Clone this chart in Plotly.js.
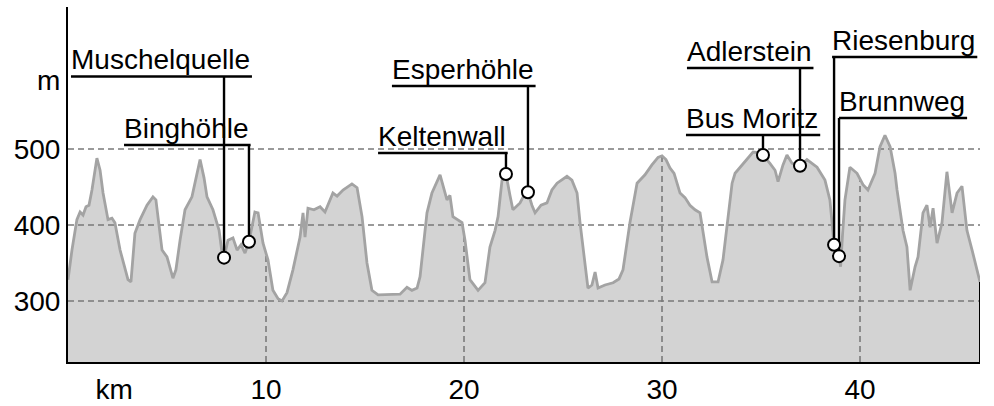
<!DOCTYPE html>
<html>
<head>
<meta charset="utf-8">
<script src="https://cdn.plot.ly/plotly-3.0.1.min.js"></script>
<style>
  html, body { margin: 0; padding: 0; background: #fff; }
  #chart { width: 994px; height: 406px; }
</style>
</head>
<body>
<div id="chart"></div>
<script>
// ---- Data: elevation profile (km, m) ----
var profileKm = [
  0.00,0.20,0.45,0.61,0.76,0.91,1.06,1.21,1.46,1.62,
  1.77,2.02,2.22,2.37,2.63,2.88,3.03,3.18,3.38,3.64,
  3.99,4.29,4.44,4.75,5.00,5.30,5.45,5.66,5.91,6.26,
  6.46,6.67,6.87,7.02,7.32,7.63,7.78,7.88,8.08,8.33,
  8.54,8.74,8.94,9.14,9.44,9.60,9.85,10.10,10.35,10.61,
  10.81,11.06,11.36,11.72,11.87,11.97,12.12,12.42,12.73,12.98,
  13.38,13.59,13.89,14.14,14.34,14.60,14.85,15.10,15.35,15.66,
  16.26,16.77,17.12,17.37,17.63,17.78,18.13,18.38,18.79,19.14,
  19.29,19.44,19.90,20.05,20.30,20.71,21.06,21.31,21.57,21.72,
  21.92,22.12,22.32,22.47,22.83,23.03,23.23,23.43,23.59,23.89,
  24.19,24.44,24.70,24.95,25.20,25.45,25.71,25.86,26.11,26.26,
  26.46,26.62,26.77,27.12,27.53,27.83,28.03,28.38,28.74,29.14,
  29.49,29.80,30.00,30.20,30.40,30.61,30.91,31.16,31.41,31.67,
  31.92,32.07,32.27,32.53,32.83,33.08,33.33,33.54,33.69,33.94,
  34.24,34.60,34.95,35.10,35.45,35.71,35.86,36.11,36.31,36.57,
  36.97,37.32,37.83,38.23,38.48,38.69,38.94,39.02,39.12,39.24,
  39.49,39.85,40.15,40.40,40.76,41.01,41.26,41.52,41.77,41.87,
  42.17,42.37,42.53,42.78,42.93,43.18,43.38,43.54,43.69,43.89,
  44.14,44.39,44.65,44.90,45.15,45.40,45.66,45.91,46.06
];
var profileElev = [
  328,367,407,417,413,424,426,446,488,472,
  442,407,409,403,367,341,328,325,389,407,
  426,437,433,367,358,330,341,380,420,437,
  459,486,462,437,420,393,363,357,380,383,
  367,374,363,378,417,416,376,354,314,303,
  300,311,341,384,416,384,422,420,424,417,
  442,438,446,451,454,449,411,350,314,308,
  309,309,318,314,317,332,416,442,466,433,
  439,411,403,380,328,314,324,371,393,411,
  459,467,439,420,429,439,443,426,416,426,
  429,446,455,459,464,459,442,403,350,317,
  321,338,317,321,324,329,341,403,455,466,
  479,489,491,486,475,468,442,436,426,420,
  416,393,358,325,325,354,407,455,468,476,
  486,496,495,492,481,472,457,479,492,481,
  478,486,476,459,433,374,359,345,389,433,
  476,468,453,446,468,503,518,503,468,446,
  393,371,314,345,358,416,426,397,422,376,
  403,470,416,442,451,393,367,341,325
];

// ---- Data: points of interest ----
var poiNames = ['Muschelquelle','Binghöhle','Keltenwall','Esperhöhle','Bus Moritz','Adlerstein','Riesenburg','Brunnweg'];
var poiKm    = [7.88, 9.14, 22.12, 23.23, 35.10, 36.97, 38.69, 38.94];
var poiElev  = [357, 378, 467, 443, 492, 478, 374, 359];

// ---- Ticks ----
var xTickVals = [2.33, 10, 20, 30, 40];
var xTickText = ['km', '10', '20', '30', '40'];
var yTickVals = [300, 400, 500, 590];
var yTickText = ['300', '400', '500', 'm'];
var xGridVals = [10, 20, 30, 40];
var yGridVals = [300, 400, 500];

// ---- Label placement (layout, km / m of underline) ----
var labelKm   = [0.15, 2.83, 15.66, 16.36, 31.21, 31.26, 38.59, 38.94];
var labelElev = [595.4, 505.3, 494.7, 582.9, 518.4, 606.6, 621.0, 540.8];

// ---- Layout constants ----
var W = 994, H = 406;
var M = {l: 68, r: 14, t: 7, b: 44};
var xRange = [0, 46.06];
var yRange = [219.7, 686.8];
var FONT = 'Liberation Sans, Arial, sans-serif';
var FS = 28;
var pxPerKm = (W - M.l - M.r) / (xRange[1] - xRange[0]);

function interp(x) {
  for (var i = 1; i < profileKm.length; i++) {
    if (profileKm[i] >= x) {
      var t = (x - profileKm[i-1]) / (profileKm[i] - profileKm[i-1]);
      return profileElev[i-1] + t * (profileElev[i] - profileElev[i-1]);
    }
  }
  return profileElev[profileElev.length - 1];
}

var ctx = document.createElement('canvas').getContext('2d');
ctx.font = FS + 'px "Liberation Sans"';

var traces = [];
// filled area
traces.push({
  x: profileKm, y: profileElev, type: 'scatter', mode: 'none',
  fill: 'tozeroy', fillcolor: '#d3d3d3', hoverinfo: 'skip'
});
// horizontal grid lines
var gx = [], gy = [];
yGridVals.forEach(function (v) { gx.push(xRange[0], xRange[1], null); gy.push(v, v, null); });
// vertical grid lines (clipped to the profile)
xGridVals.forEach(function (v) { gx.push(v, v, null); gy.push(yRange[0], interp(v), null); });
traces.push({
  x: gx, y: gy, type: 'scatter', mode: 'lines',
  line: {color: '#7a7a7a', width: 1.6, dash: '6px,4px'}, hoverinfo: 'skip'
});
// profile line
traces.push({
  x: profileKm, y: profileElev, type: 'scatter', mode: 'lines',
  line: {color: '#a3a3a3', width: 2.8}, hoverinfo: 'skip'
});
// right edge of the area
var lastI = profileKm.length - 1;
traces.push({
  x: [profileKm[lastI], profileKm[lastI]], y: [yRange[0], profileElev[lastI]],
  type: 'scatter', mode: 'lines', line: {color: '#000', width: 2}, hoverinfo: 'skip'
});
// leaders and underlines
var lx = [], ly = [];
var annotations = [];
poiNames.forEach(function (name, i) {
  var wKm = (ctx.measureText(name).width + 2) / pxPerKm;
  lx.push(labelKm[i], labelKm[i] + wKm, null);
  ly.push(labelElev[i], labelElev[i], null);
  lx.push(poiKm[i], poiKm[i], null);
  ly.push(labelElev[i], poiElev[i], null);
  annotations.push({
    x: labelKm[i], y: labelElev[i], xref: 'x', yref: 'y',
    xanchor: 'left', yanchor: 'bottom', showarrow: false,
    text: name, font: {family: FONT, size: FS, color: '#000'},
    borderpad: 0, xshift: -1, yshift: 0
  });
});
traces.push({
  x: lx, y: ly, type: 'scatter', mode: 'lines',
  line: {color: '#000', width: 2.4}, hoverinfo: 'skip'
});
// POI markers
traces.push({
  x: poiKm, y: poiElev, type: 'scatter', mode: 'markers',
  marker: {size: 12, color: '#fff', line: {color: '#000', width: 2}},
  text: poiNames, hoverinfo: 'text'
});

var layout = {
  width: W, height: H,
  margin: M,
  paper_bgcolor: '#fff', plot_bgcolor: '#fff',
  showlegend: false,
  font: {family: FONT, size: FS, color: '#000'},
  xaxis: {
    range: xRange, showgrid: false, zeroline: false,
    showline: true, linecolor: '#000', linewidth: 2,
    ticks: '', tickvals: xTickVals, ticktext: xTickText,
    tickfont: {family: FONT, size: FS, color: '#000'},
    ticklabelstandoff: 1, fixedrange: true
  },
  yaxis: {
    range: yRange, showgrid: false, zeroline: false,
    showline: true, linecolor: '#000', linewidth: 2,
    ticks: '', tickvals: yTickVals, ticktext: yTickText,
    tickfont: {family: FONT, size: FS, color: '#000'},
    ticklabelstandoff: 0, fixedrange: true
  },
  annotations: annotations
};

Plotly.newPlot('chart', traces, layout, {displayModeBar: false, staticPlot: true});
</script>
</body>
</html>
